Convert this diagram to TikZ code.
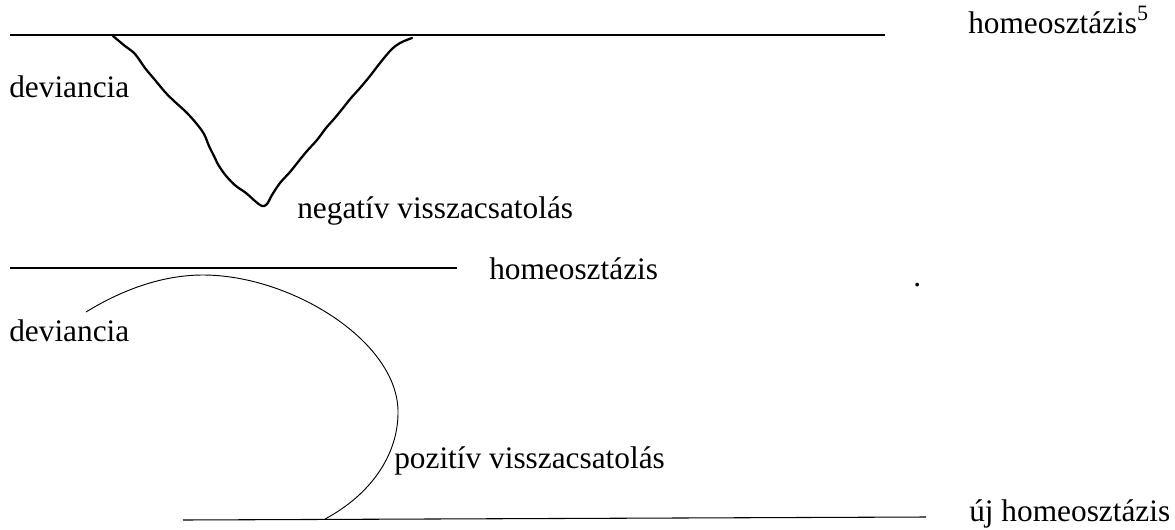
\documentclass[tikz,border=0pt]{standalone}
\usepackage{fontspec}
\setmainfont{Liberation Serif}
\usepackage{tikz}
\usetikzlibrary{positioning,calc}

\begin{document}
\begin{tikzpicture}[
  x=0.75pt,y=-0.75pt,
  lbl/.style={anchor=base west,inner sep=0pt,font=\fontsize{23.5}{28}\selectfont},
  level/.style={line width=0.8pt},
  curve/.style={line width=0.7pt},
  wiggle/.style={line width=1.7pt,line join=round,line cap=round}
]
\useasboundingbox (0,0) rectangle (1175,529);
% labels
\node[lbl] (hom1) at (968,33) {homeosztázis\textsuperscript{5}};
\node[lbl] (dev1) at (9,97) {deviancia};
\node[lbl] (negfb) at (297,218) {negatív visszacsatolás};
\node[lbl] (hom2) at (489,279) {homeosztázis};
\node[lbl] (dot) at (913,286) {.};
\node[lbl] (dev2) at (9,341) {deviancia};
\node[lbl] (posfb) at (394,468) {pozitív visszacsatolás};
\node[lbl] (newhom) at (969,521) {új homeosztázis};
% levels
\coordinate (top1) at (10,35);
\coordinate (top2) at (885,35);
\coordinate (mid1) at (10,268);
\coordinate (mid2) at (457,268);
\coordinate (low1) at (183,520);
\coordinate (low2) at (926,517);
\draw[level] (top1) -- (top2);
\draw[level] (mid1) -- (mid2);
\draw[level] (low1) -- (low2);
% negative feedback
\draw[wiggle] plot[smooth,tension=0.6] coordinates {
  (113,36) (125,46) (135,54) (145,68) (155,80) (165,92) (174,101) (186,112)
  (196,123) (204,134) (209,146) (214,156) (219,166) (227,177) (236,186)
  (246,193) (255,201) (262,206) (267,204) (272,195) (280,183) (290,172)
  (298,162) (307,151) (317,140) (326,128) (334,119) (343,108) (351,98)
  (360,88) (370,76) (380,63) (391,50) (400,43) (412,38)};
% positive feedback
\draw[curve] (86,312) .. controls (125,288) and (165,275) .. (203,275)
  .. controls (290,275) and (396,340) .. (398,410)
  .. controls (399,455) and (370,495) .. (325,519);
\end{tikzpicture}
\end{document}
